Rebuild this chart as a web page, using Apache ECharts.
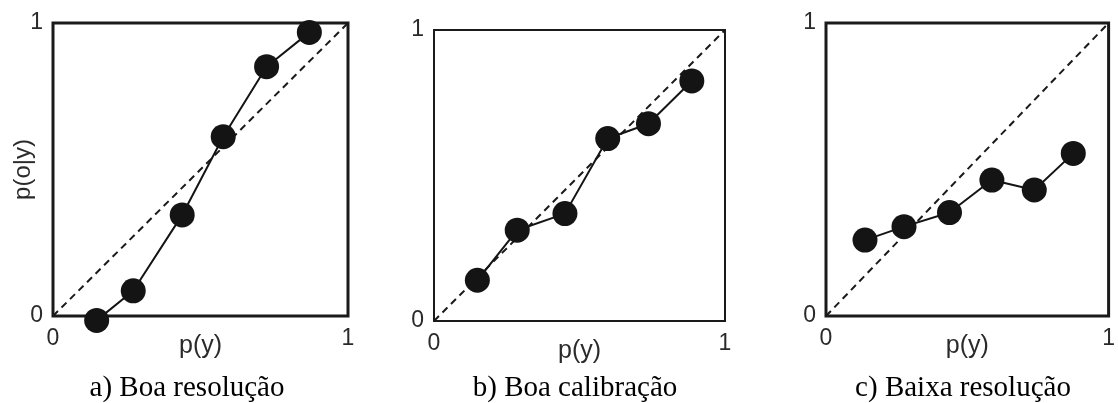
<!DOCTYPE html>
<html><head><meta charset="utf-8">
<script src="https://cdn.jsdelivr.net/npm/echarts@6/dist/echarts.min.js"></script>
<style>html,body{margin:0;padding:0;background:#fff}#c{width:1118px;height:403px}</style>
</head><body><div id="c"></div>
<script>
// Data
const captions = ['a) Boa resolução', 'b) Boa calibração', 'c) Baixa resolução'];
const xLabelName = 'p(y)';
const yLabelName = 'p(o|y)';
const xa = [0.148, 0.272, 0.438, 0.577, 0.724, 0.869];
const ya = [-0.015, 0.086, 0.345, 0.612, 0.851, 0.968];
const xb = [0.149, 0.286, 0.450, 0.597, 0.737, 0.886];
const yb = [0.140, 0.312, 0.369, 0.627, 0.678, 0.825];
const xc = [0.138, 0.276, 0.437, 0.587, 0.737, 0.875];
const yc = [0.259, 0.305, 0.353, 0.464, 0.430, 0.555];
const diagonal = [[0, 0], [1, 1]];

const panels = [[xa, ya], [xb, yb], [xc, yc]];
const grids = [
  {left: 53, top: 23, width: 295, height: 293, bw: 3, cap: 182},
  {left: 434, top: 30, width: 291, height: 291, bw: 2, cap: 570},
  {left: 826, top: 23, width: 289, height: 293, bw: 3, cap: 958}
];
const sans = 'Liberation Sans, Arial, sans-serif';
const serif = 'Liberation Serif, Times New Roman, serif';

const option = {
  animation: false,
  backgroundColor: '#fff',
  title: grids.map((g, i) => ({
    text: captions[i],
    left: g.cap,
    top: 369,
    textAlign: 'center',
    textStyle: {fontFamily: serif, fontSize: 29, fontWeight: 'normal', color: '#000'}
  })),
  grid: grids.map(g => ({
    left: g.left, top: g.top, width: g.width, height: g.height,
    show: true, borderColor: '#1a1a1a', borderWidth: g.bw, backgroundColor: 'transparent'
  })),
  xAxis: grids.map((g, i) => ({
    type: 'value', gridIndex: i, min: 0, max: 1, interval: 1,
    name: xLabelName, nameLocation: 'middle', nameGap: 18, nameMoveOverlap: false,
    nameTextStyle: {fontFamily: sans, fontSize: 25, color: '#2a2a2a'},
    axisLine: {show: false}, axisTick: {show: false}, splitLine: {show: false},
    axisLabel: {fontFamily: sans, fontSize: 23, color: '#2a2a2a', margin: 11}
  })),
  yAxis: grids.map((g, i) => ({
    type: 'value', gridIndex: i, min: 0, max: 1, interval: 1,
    name: i === 0 ? yLabelName : '', nameLocation: 'middle', nameGap: 18, nameMoveOverlap: false,
    nameTextStyle: {fontFamily: sans, fontSize: 24, color: '#2a2a2a'},
    axisLine: {show: false}, axisTick: {show: false}, splitLine: {show: false},
    axisLabel: {fontFamily: sans, fontSize: 23, color: '#2a2a2a', margin: 10}
  })),
  series: []
};
panels.forEach((p, i) => {
  option.series.push({
    type: 'line', xAxisIndex: i, yAxisIndex: i, data: diagonal,
    symbol: 'none', silent: true, clip: false,
    lineStyle: {color: '#1a1a1a', width: 2, type: [7, 5]}
  });
  option.series.push({
    type: 'line', xAxisIndex: i, yAxisIndex: i, clip: false,
    data: p[0].map((x, k) => [x, p[1][k]]),
    symbol: 'circle', symbolSize: 25,
    itemStyle: {color: '#141414'},
    lineStyle: {color: '#141414', width: 2}
  });
});
const chart = echarts.init(document.getElementById('c'), null, {renderer: 'canvas'});
chart.setOption(option);
</script></body></html>
